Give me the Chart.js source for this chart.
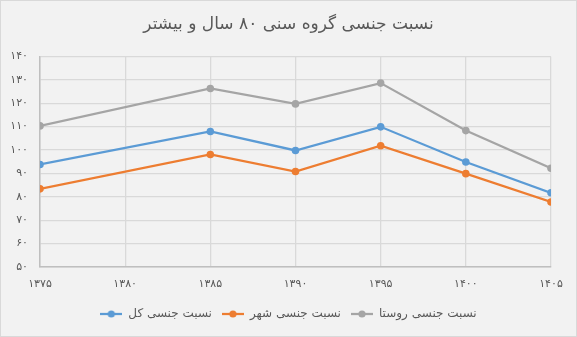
<!DOCTYPE html>
<html>
<head>
<meta charset="utf-8">
<script src="https://cdn.jsdelivr.net/npm/chart.js@4.4.0/dist/chart.umd.min.js"></script>
<style>
  html, body { margin: 0; padding: 0; background: #ffffff; }
  #wrap {
    width: 575px; height: 335px;
    border: 1px solid #d9d9d9;
    background: #f2f2f2;
  }
  canvas { display: block; }
</style>
</head>
<body>
<div id="wrap"><canvas id="chart" width="575" height="335"></canvas></div>
<script>
// census years and sex ratio (men per 100 women), age group 80+
var years = [1375, 1385, 1390, 1395, 1400, 1405];
var ratioTotal = [93.8, 107.9, 99.8, 109.9, 94.9, 81.7];
var ratioUrban = [83.4, 98.1, 90.8, 101.8, 89.9, 77.8];
var ratioRural = [110.3, 126.3, 119.7, 128.6, 108.3, 92.2];

var seriesNames = ['نسبت جنسی کل', 'نسبت جنسی شهر', 'نسبت جنسی روستا'];
var seriesColors = ['#5b9bd5', '#ed7d31', '#a5a5a5'];
var titleText = 'نسبت جنسی گروه سنی ۸۰ سال و بیشتر';

var FONT = "'DejaVu Sans', sans-serif";
var TEXT = '#595959';

// western digits -> persian digits
function fa(n) {
    var d = '۰۱۲۳۴۵۶۷۸۹';
    return String(n).replace(/[0-9]/g, function(c) { return d[+c]; });
}

// legend marker: short line with a dot on it
function marker(color) {
    var c = document.createElement('canvas');
    c.width = 22; c.height = 10;
    var g = c.getContext('2d');
    g.strokeStyle = color;
    g.lineWidth = 2.25;
    g.beginPath(); g.moveTo(0, 5); g.lineTo(22, 5); g.stroke();
    g.fillStyle = color;
    g.beginPath(); g.arc(11, 5, 3.6, 0, Math.PI * 2); g.fill();
    return c;
}

function points(vals) {
    return years.map(function(y, i) { return {x: y, y: vals[i]}; });
}

var datasets = [ratioTotal, ratioUrban, ratioRural].map(function(vals, i) {
    return {
        label: seriesNames[i],
        data: points(vals),
        borderColor: seriesColors[i],
        backgroundColor: seriesColors[i],
        borderWidth: 2.25,
        pointRadius: 3.8,
        pointHoverRadius: 3.8,
        pointBorderWidth: 0,
        tension: 0,
        pointStyle: 'circle'
    };
});

var markers = seriesColors.map(marker);

new Chart(document.getElementById('chart').getContext('2d'), {
    type: 'line',
    data: { datasets: datasets },
    options: {
        responsive: false,
        animation: false,
        events: [],
        layout: { padding: { left: 0, right: 0, top: 10, bottom: 6 } },
        plugins: {
            title: {
                display: true,
                text: titleText,
                color: TEXT,
                font: { family: FONT, size: 17, weight: 'normal' },
                padding: { top: 3, bottom: 22 }
            },
            legend: {
                position: 'bottom',
                labels: {
                    color: TEXT,
                    font: { family: FONT, size: 12 },
                    usePointStyle: true,
                    pointStyleWidth: 22,
                    boxHeight: 10,
                    padding: 10,
                    generateLabels: function(chart) {
                        return chart.data.datasets.map(function(ds, i) {
                            return {
                                text: ds.label,
                                pointStyle: markers[i],
                                fillStyle: ds.borderColor,
                                strokeStyle: ds.borderColor,
                                lineWidth: 0,
                                fontColor: TEXT,
                                datasetIndex: i
                            };
                        });
                    }
                }
            },
            tooltip: { enabled: false }
        },
        scales: {
            x: {
                type: 'linear',
                min: 1375, max: 1405,
                grid: { color: '#d9d9d9', lineWidth: 1.3, drawTicks: false },
                border: { color: '#bfbfbf', width: 1.5 },
                ticks: {
                    stepSize: 5,
                    padding: 11,
                    color: TEXT,
                    font: { family: FONT, size: 11 },
                    callback: function(v) { return fa(v); }
                },
                afterFit: function(s) { s.height = 31; }
            },
            y: {
                min: 50, max: 140,
                grid: { color: '#d9d9d9', lineWidth: 1.3, drawTicks: false },
                border: { color: '#bfbfbf', width: 1.5 },
                ticks: {
                    stepSize: 10,
                    padding: 12,
                    color: TEXT,
                    font: { family: FONT, size: 11 },
                    callback: function(v) { return fa(v); }
                },
                afterFit: function(s) { s.width = 39; }
            },
            // empty strip on the right so the plot ends short of the edge
            // while title and legend stay centred on the full width
            gutter: {
                position: 'right',
                grid: { display: false },
                border: { display: false },
                ticks: { display: false },
                afterFit: function(s) { s.width = 25; }
            }
        }
    }
});
</script>
</body>
</html>
